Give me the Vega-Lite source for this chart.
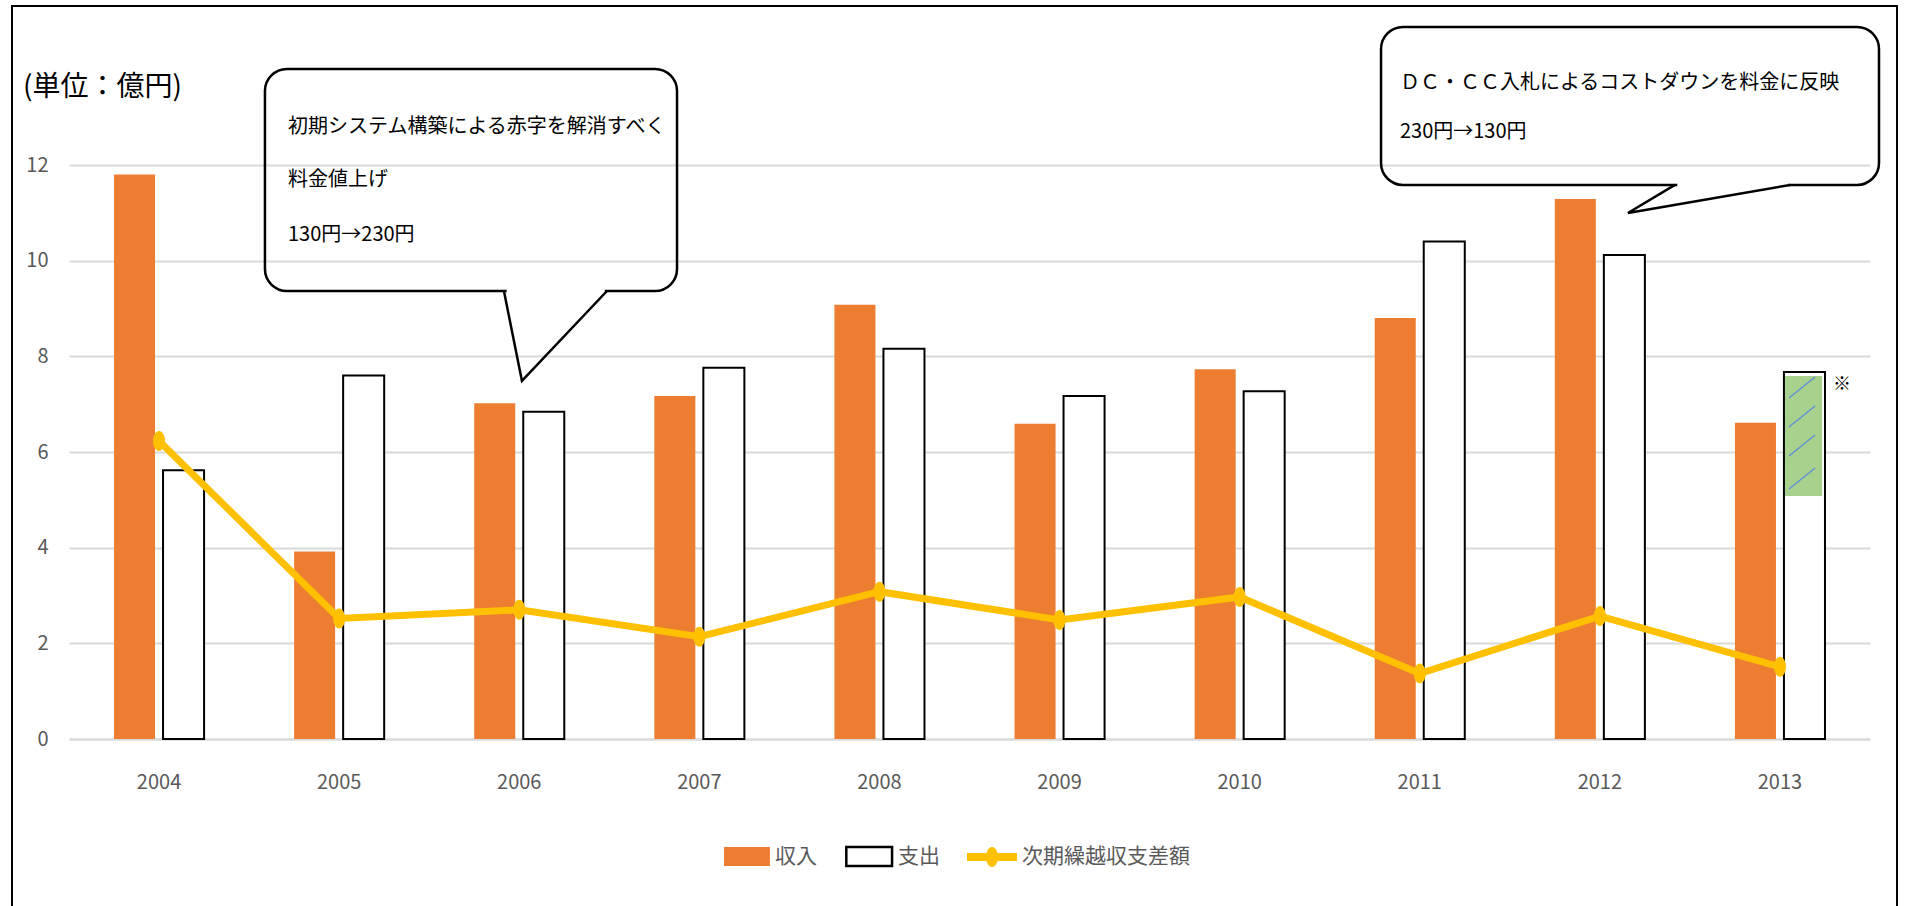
{
  "$schema": "https://vega.github.io/schema/vega-lite/v6.json",
  "width": 1801,
  "height": 574,
  "autosize": {"type": "none"},
  "padding": {"left": 69, "top": 165, "right": 37, "bottom": 167},
  "background": "#FFFFFF",
  "config": {
    "view": {"stroke": null},
    "font": "Noto Sans CJK JP",
    "axis": {"labelFont": "Noto Sans CJK JP"}
  },
  "datasets": {
    "bars": [
      {"year": "2004", "series": "収入", "value": 11.8},
      {"year": "2004", "series": "支出", "value": 5.62},
      {"year": "2005", "series": "収入", "value": 3.92},
      {"year": "2005", "series": "支出", "value": 7.6},
      {"year": "2006", "series": "収入", "value": 7.02},
      {"year": "2006", "series": "支出", "value": 6.84},
      {"year": "2007", "series": "収入", "value": 7.17},
      {"year": "2007", "series": "支出", "value": 7.76},
      {"year": "2008", "series": "収入", "value": 9.08},
      {"year": "2008", "series": "支出", "value": 8.16},
      {"year": "2009", "series": "収入", "value": 6.59},
      {"year": "2009", "series": "支出", "value": 7.17},
      {"year": "2010", "series": "収入", "value": 7.73},
      {"year": "2010", "series": "支出", "value": 7.27},
      {"year": "2011", "series": "収入", "value": 8.8},
      {"year": "2011", "series": "支出", "value": 10.4},
      {"year": "2012", "series": "収入", "value": 11.29},
      {"year": "2012", "series": "支出", "value": 10.12},
      {"year": "2013", "series": "収入", "value": 6.61},
      {"year": "2013", "series": "支出", "value": 7.67}
    ],
    "line": [
      {"year": "2004", "value": 6.23},
      {"year": "2005", "value": 2.52},
      {"year": "2006", "value": 2.7},
      {"year": "2007", "value": 2.14},
      {"year": "2008", "value": 3.08},
      {"year": "2009", "value": 2.49},
      {"year": "2010", "value": 2.97},
      {"year": "2011", "value": 1.37},
      {"year": "2012", "value": 2.57},
      {"year": "2013", "value": 1.51}
    ],
    "boxes": [
      {"x": 1.088, "x2": 3.376, "y": 14.008, "y2": 9.366},
      {"x": 7.285, "x2": 10.05, "y": 14.886, "y2": 11.583}
    ],
    "gaps": [
      {"x": 2.43, "x2": 2.975, "y": 9.366},
      {"x": 8.93, "x2": 9.545, "y": 11.583}
    ],
    "tails": [
      {"g": "a", "o": 1, "x": 2.415, "y": 9.366},
      {"g": "a", "o": 2, "x": 2.515, "y": 7.485},
      {"g": "a", "o": 3, "x": 2.987, "y": 9.366},
      {"g": "b", "o": 1, "x": 8.917, "y": 11.583},
      {"g": "b", "o": 2, "x": 8.656, "y": 10.997},
      {"g": "b", "o": 3, "x": 9.556, "y": 11.583}
    ],
    "notes": [
      {"t": "初期システム構築による赤字を解消すべく", "x": 1.216, "y": 12.795},
      {"t": "料金値上げ", "x": 1.216, "y": 11.687},
      {"t": "130円→230円", "x": 1.216, "y": 10.537},
      {"t": "ＤＣ・ＣＣ入札によるコストダウンを料金に反映", "x": 7.39, "y": 13.715},
      {"t": "230円→130円", "x": 7.39, "y": 12.691}
    ],
    "hatch": [
      {"x": 9.55, "x2": 9.695, "y": 7.129, "y2": 7.568},
      {"x": 9.55, "x2": 9.695, "y": 6.522, "y2": 6.962},
      {"x": 9.55, "x2": 9.695, "y": 5.916, "y2": 6.356},
      {"x": 9.55, "x2": 9.695, "y": 5.226, "y2": 5.666}
    ],
    "legendSwatches": [
      {"series": "収入", "x": 3.637, "x2": 3.892, "y": -2.258, "y2": -2.655},
      {"series": "支出", "x": 4.316, "x2": 4.57, "y": -2.258, "y2": -2.655}
    ],
    "legendLine": [
      {"x": 4.986, "x2": 5.264, "xc": 5.125, "y": -2.467}
    ],
    "legendLabels": [
      {"t": "収入", "x": 3.92, "y": -2.467},
      {"t": "支出", "x": 4.603, "y": -2.467},
      {"t": "次期繰越収支差額", "x": 5.291, "y": -2.467}
    ]
  },
  "resolve": {"scale": {"x": "independent"}, "axis": {"x": "independent"}},
  "layer": [
    {
      "layer": [
        {
          "data": {"name": "bars"},
          "mark": {"type": "bar", "stroke": "#000000"},
          "encoding": {
            "x": {
              "field": "year", "type": "nominal",
              "scale": {"paddingInner": 0.5, "paddingOuter": 0.25},
              "axis": {
                "title": null, "labelAngle": 0, "ticks": false,
                "domainColor": "#D9D9D9", "domainWidth": 2,
                "labelFontSize": 20, "labelColor": "#595959", "labelPadding": 33
              }
            },
            "xOffset": {
              "field": "series", "type": "nominal",
              "scale": {"domain": ["収入", "支出"], "paddingInner": 0.163, "paddingOuter": 0}
            },
            "y": {
              "field": "value", "type": "quantitative",
              "scale": {"domain": [0, 12], "nice": false, "zero": true},
              "axis": {
                "title": null, "values": [0, 2, 4, 6, 8, 10, 12], "ticks": false, "domain": false,
                "gridColor": "#D9D9D9", "gridWidth": 2,
                "labelFontSize": 20, "labelColor": "#595959", "labelPadding": 21
              }
            },
            "fill": {
              "field": "series", "type": "nominal",
              "scale": {"domain": ["収入", "支出"], "range": ["#ED7D31", "#FFFFFF"]},
              "legend": null
            },
            "strokeWidth": {"condition": {"test": "datum.series === '支出'", "value": 2}, "value": 0}
          }
        },
        {
          "data": {"name": "line"},
          "mark": {"type": "line", "color": "#FFC000", "strokeWidth": 7},
          "encoding": {
            "x": {"field": "year", "type": "nominal"},
            "y": {"field": "value", "type": "quantitative", "title": null, "scale": {"domain": [0, 12], "nice": false}}
          }
        },
        {
          "data": {"name": "line"},
          "mark": {
            "type": "point", "filled": true, "color": "#FFC000", "opacity": 1, "size": 400,
            "shape": "M0.6,0A0.6,1 0 1,1 -0.6,0A0.6,1 0 1,1 0.6,0Z"
          },
          "encoding": {
            "x": {"field": "year", "type": "nominal"},
            "y": {"field": "value", "type": "quantitative", "title": null, "scale": {"domain": [0, 12], "nice": false}}
          }
        }
      ]
    },
    {
      "layer": [
        {
          "data": {"values": [{"x": 9.528, "x2": 9.734, "y": 5.08, "y2": 7.59}]},
          "mark": {"type": "rect", "fill": "#A9D18E"},
          "encoding": {
            "x": {"field": "x", "type": "quantitative", "scale": {"domain": [0, 10], "nice": false, "zero": false}, "axis": null},
            "x2": {"field": "x2"},
            "y": {"field": "y", "type": "quantitative", "title": null, "scale": {"domain": [0, 12], "nice": false}},
            "y2": {"field": "y2"}
          }
        },
        {
          "data": {"name": "hatch"},
          "mark": {"type": "rule", "color": "#5B8FD6", "strokeWidth": 1.3},
          "encoding": {
            "x": {"field": "x", "type": "quantitative", "axis": null},
            "x2": {"field": "x2"},
            "y": {"field": "y", "type": "quantitative", "title": null},
            "y2": {"field": "y2"}
          }
        },
        {
          "data": {"values": [{"t": "※", "x": 9.845, "y": 7.4}]},
          "mark": {"type": "text", "fontSize": 18, "color": "#000000", "align": "center", "baseline": "middle"},
          "encoding": {
            "x": {"field": "x", "type": "quantitative", "axis": null},
            "y": {"field": "y", "type": "quantitative", "title": null},
            "text": {"field": "t"}
          }
        },
        {
          "data": {"name": "boxes"},
          "mark": {"type": "rect", "fill": "transparent", "stroke": "#000000", "strokeWidth": 2.5, "cornerRadius": 22},
          "encoding": {
            "x": {"field": "x", "type": "quantitative", "axis": null},
            "x2": {"field": "x2"},
            "y": {"field": "y", "type": "quantitative", "title": null},
            "y2": {"field": "y2"}
          }
        },
        {
          "data": {"name": "gaps"},
          "mark": {"type": "rule", "color": "#FFFFFF", "strokeWidth": 5},
          "encoding": {
            "x": {"field": "x", "type": "quantitative", "axis": null},
            "x2": {"field": "x2"},
            "y": {"field": "y", "type": "quantitative", "title": null}
          }
        },
        {
          "data": {"name": "tails"},
          "mark": {"type": "line", "color": "#000000", "strokeWidth": 2.5, "strokeJoin": "miter"},
          "encoding": {
            "x": {"field": "x", "type": "quantitative", "axis": null},
            "y": {"field": "y", "type": "quantitative", "title": null},
            "detail": {"field": "g"},
            "order": {"field": "o"}
          }
        },
        {
          "data": {"name": "notes"},
          "mark": {"type": "text", "fontSize": 20, "color": "#000000", "align": "left", "baseline": "middle", "font": "Noto Sans CJK JP"},
          "encoding": {
            "x": {"field": "x", "type": "quantitative", "axis": null},
            "y": {"field": "y", "type": "quantitative", "title": null},
            "text": {"field": "t"}
          }
        },
        {
          "data": {"values": [{"t": "(単位：億円)", "x": -0.2554, "y": 13.61}]},
          "mark": {"type": "text", "fontSize": 28, "color": "#000000", "align": "left", "baseline": "middle", "font": "Noto Sans CJK JP"},
          "encoding": {
            "x": {"field": "x", "type": "quantitative", "axis": null},
            "y": {"field": "y", "type": "quantitative", "title": null},
            "text": {"field": "t"}
          }
        },
        {
          "data": {"name": "legendSwatches"},
          "mark": {"type": "rect", "stroke": "#000000"},
          "encoding": {
            "x": {"field": "x", "type": "quantitative", "axis": null},
            "x2": {"field": "x2"},
            "y": {"field": "y", "type": "quantitative", "title": null},
            "y2": {"field": "y2"},
            "fill": {
              "field": "series", "type": "nominal",
              "scale": {"domain": ["収入", "支出"], "range": ["#ED7D31", "#FFFFFF"]},
              "legend": null
            },
            "strokeWidth": {"condition": {"test": "datum.series === '支出'", "value": 2.5}, "value": 0}
          }
        },
        {
          "data": {"name": "legendLine"},
          "mark": {"type": "rule", "color": "#FFC000", "strokeWidth": 8},
          "encoding": {
            "x": {"field": "x", "type": "quantitative", "axis": null},
            "x2": {"field": "x2"},
            "y": {"field": "y", "type": "quantitative", "title": null}
          }
        },
        {
          "data": {"name": "legendLine"},
          "mark": {
            "type": "point", "filled": true, "color": "#FFC000", "opacity": 1, "size": 400,
            "shape": "M0.6,0A0.6,1 0 1,1 -0.6,0A0.6,1 0 1,1 0.6,0Z"
          },
          "encoding": {
            "x": {"field": "xc", "type": "quantitative", "axis": null},
            "y": {"field": "y", "type": "quantitative", "title": null}
          }
        },
        {
          "data": {"name": "legendLabels"},
          "mark": {"type": "text", "fontSize": 21, "color": "#595959", "align": "left", "baseline": "middle", "font": "Noto Sans CJK JP"},
          "encoding": {
            "x": {"field": "x", "type": "quantitative", "axis": null},
            "y": {"field": "y", "type": "quantitative", "title": null},
            "text": {"field": "t"}
          }
        },
        {
          "data": {"values": [{"x": -0.3165, "x2": 10.15, "y": 15.325, "y2": -3.7}]},
          "mark": {"type": "rect", "fill": "transparent", "stroke": "#000000", "strokeWidth": 2},
          "encoding": {
            "x": {"field": "x", "type": "quantitative", "axis": null},
            "x2": {"field": "x2"},
            "y": {"field": "y", "type": "quantitative", "title": null},
            "y2": {"field": "y2"}
          }
        }
      ]
    }
  ]
}
